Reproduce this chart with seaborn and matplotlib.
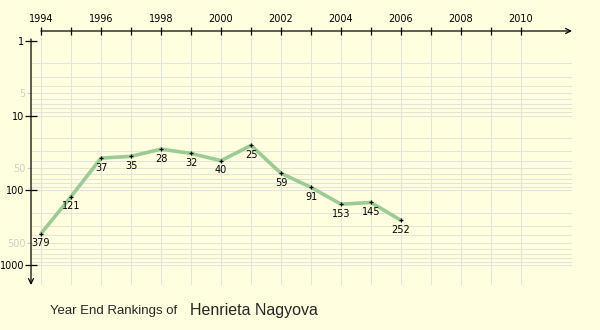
import matplotlib
matplotlib.use("Agg")
import matplotlib.pyplot as plt
import matplotlib.ticker as mticker
import numpy as np
import pandas as pd
import seaborn as sns

# Year-end singles rankings
years = [1994, 1995, 1996, 1997, 1998, 1999, 2000, 2001, 2002, 2003, 2004, 2005, 2006]
rankings = [379, 121, 37, 35, 28, 32, 40, 25, 59, 91, 153, 145, 252]

year_ticks = list(range(1994, 2011))
year_labels = [str(y) if y % 2 == 0 else "" for y in year_ticks]
major_ranks = [1, 10, 100, 1000]
minor_ranks = [5, 50, 500]

player = "Henrieta Nagyova"
caption = "Year End Rankings of"

df = pd.DataFrame({"year": years, "rank": rankings})

sns.set_style("white")
plt.rcParams["font.family"] = ["DejaVu Sans"]

BG = "#ffffe0"
GRID = "#e4e4d8"
LINE = "#9ccb95"

fig = plt.figure(figsize=(6.0, 3.3), dpi=100, facecolor=BG)
ax = fig.add_axes([31 / 600, 45 / 330, 541 / 600, 254 / 330])
ax.set_facecolor(BG)

# axis ranges: 30 px per year, ~74.7 px per decade
x0 = 1994 - 10 / 30
x1 = 1994 + 531 / 30
ax.set_xlim(x0, x1)
ax.set_yscale("log")
ax.set_ylim(10 ** (244 / 74.7), 10 ** (-10 / 74.7))

# grid
for y in year_ticks:
    ax.axvline(y, color=GRID, lw=0.8, zorder=0)
grid_vals = [m * 10 ** d for d in range(0, 3) for m in range(2, 11)]
for v in grid_vals:
    ax.axhline(v, color=GRID, lw=0.8, zorder=0)

sns.lineplot(data=df, x="year", y="rank", ax=ax, color=LINE, lw=2.6,
             zorder=2, legend=False)
sns.scatterplot(data=df, x="year", y="rank", ax=ax, marker="+", color="black",
                s=9, linewidth=0.9, zorder=3, legend=False)

for yr, rk in zip(years, rankings):
    ax.annotate(str(rk), (yr, rk), xytext=(0, -6.8), textcoords="offset points",
                ha="center", va="center", fontsize=7, color="black", zorder=4)

for s in ax.spines.values():
    s.set_visible(False)

# top x axis with arrow
ax.xaxis.tick_top()
ax.set_xticks(year_ticks)
ax.set_xticklabels(year_labels)
ax.tick_params(axis="x", which="major", top=True, bottom=False,
               direction="inout", length=6, width=0.9,
               labelsize=7, pad=2, colors="black")
ax.annotate("", xy=(1, 1), xytext=((1994 - x0) / (x1 - x0), 1),
            xycoords="axes fraction", textcoords="axes fraction",
            arrowprops=dict(arrowstyle="->", lw=0.9, color="black",
                            shrinkA=0, shrinkB=0, mutation_scale=9))

# left y axis with arrow pointing down
ax.yaxis.set_major_locator(mticker.FixedLocator(major_ranks))
ax.yaxis.set_major_formatter(mticker.FixedFormatter([str(v) for v in major_ranks]))
ax.yaxis.set_minor_locator(mticker.FixedLocator(minor_ranks))
ax.yaxis.set_minor_formatter(mticker.FixedFormatter([str(v) for v in minor_ranks]))
ax.tick_params(axis="y", which="major", left=True, direction="inout",
               length=8, width=0.9, labelsize=7, pad=1, colors="black")
ax.tick_params(axis="y", which="minor", left=True, direction="out",
               length=3, width=0.8, labelsize=7, pad=1, colors="#cfcfc4")
ax.set_xlabel("")
ax.set_ylabel("")
top_frac = 1 - 8 / 254
ax.annotate("", xy=(0, 0), xytext=(0, top_frac),
            xycoords="axes fraction", textcoords="axes fraction",
            arrowprops=dict(arrowstyle="->", lw=0.9, color="black",
                            shrinkA=0, shrinkB=0, mutation_scale=9))

fig.text(50 / 600, 1 - 311 / 330, caption, fontsize=9.5,
         family=["Liberation Sans", "DejaVu Sans"], va="center", ha="left")
fig.text(190 / 600, 1 - 310 / 330, player, fontsize=11.5,
         family=["Liberation Sans", "DejaVu Sans"], va="center", ha="left")

fig.savefig("out.png", dpi=100, facecolor=BG)
